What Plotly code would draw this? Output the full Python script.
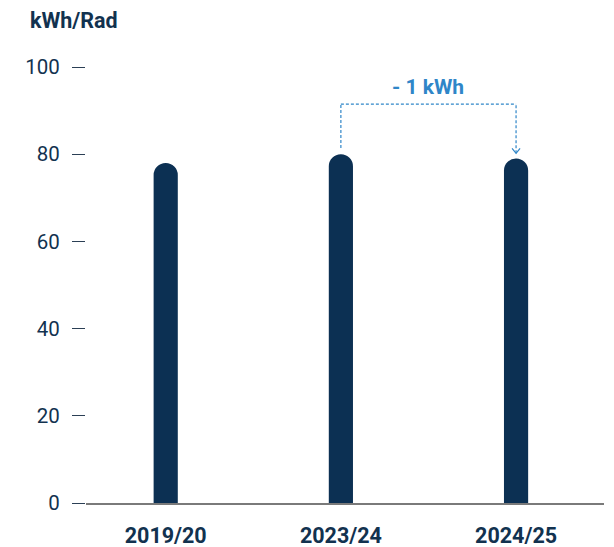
import plotly.graph_objects as go

categories = ["2019/20", "2023/24", "2024/25"]
values = [78, 80, 79]
y_ticks = [0, 20, 40, 60, 80, 100]
unit_label = "kWh/Rad"
delta_label = "- 1 kWh"

NAVY = "#0c3053"
TEXT = "#12324f"
BLUE = "#2f86c8"

fig = go.Figure()
fig.add_trace(go.Bar(
    x=categories, y=values,
    marker=dict(color=NAVY, cornerradius=12, line=dict(width=0)),
    width=0.138,
    hoverinfo="skip",
))

# bracket between 2023/24 and 2024/25
i1, i2 = 1, 2
top_y = 91.5
dash = dict(color=BLUE, width=1.2, dash="3px,2px")
fig.add_shape(type="line", xref="x", yref="y", x0=i1, x1=i1, y0=values[i1] + 1.4, y1=top_y, line=dash)
fig.add_shape(type="line", xref="x", yref="y", x0=i1, x1=i2, y0=top_y, y1=top_y, line=dash)
fig.add_shape(type="line", xref="x", yref="y", x0=i2, x1=i2, y0=values[i2] + 1.2, y1=top_y, line=dash)
# open chevron arrow head at the lower end
fig.add_shape(type="path", xref="x", yref="y", xsizemode="pixel", ysizemode="pixel",
              xanchor=i2, yanchor=values[i2] + 1.2,
              path="M-4,5 L0,0 L4,5", line=dict(color=BLUE, width=1.2))
fig.add_annotation(x=(i1 + i2) / 2, y=top_y + 4.0, xref="x", yref="y", text=delta_label, showarrow=False,
                   font=dict(family="Roboto", size=21, color=BLUE, weight="bold"), yanchor="middle")

fig.update_layout(
    width=614, height=547,
    margin=dict(l=78, r=18, t=59, b=52),
    paper_bgcolor="white", plot_bgcolor="white",
    showlegend=False,
    title=dict(text="<b>" + unit_label + "</b>", x=22 / 614, xanchor="left", xref="container",
               y=1 - 12 / 547, yanchor="middle", yref="container",
               font=dict(family="Roboto", size=21.5, color=TEXT)),
    font=dict(family="Roboto", color=TEXT),
)
fig.update_xaxes(
    type="category", range=[-0.455, 2.502], automargin=False,
    showgrid=False, zeroline=False,
    showline=True, linecolor="#7a7a7a", linewidth=2,
    ticks="", ticklabelstandoff=12,
    tickfont=dict(family="Roboto", size=21.5, color=TEXT, weight="bold"),
)
fig.update_yaxes(
    range=[0, 100], tickvals=y_ticks, automargin=False,
    showgrid=False, zeroline=False, showline=False,
    ticks="outside", ticklen=13, tickwidth=1.3, tickcolor="#2b3f55",
    ticklabelstandoff=8,
    tickfont=dict(family="Roboto", size=20.5, color=TEXT),
)

fig.write_html("out.html")
